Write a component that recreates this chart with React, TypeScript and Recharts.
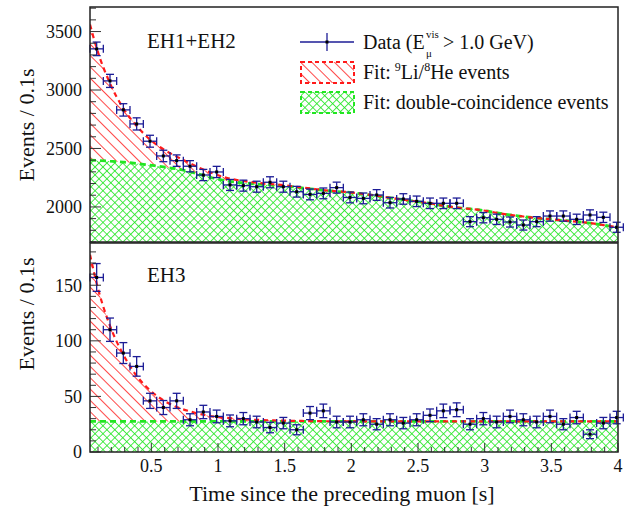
import React from "react";
import { ComposedChart, Area, Line, Scatter, XAxis, YAxis, ErrorBar } from "recharts";

// bin centres (0.1 s bins)
const binCenters = [
  0.09, 0.19, 0.29, 0.39, 0.49, 0.59, 0.69, 0.79, 0.89, 0.99,
  1.09, 1.19, 1.29, 1.39, 1.49, 1.59, 1.69, 1.79, 1.89, 1.99,
  2.09, 2.19, 2.29, 2.39, 2.49, 2.59, 2.69, 2.79, 2.89, 2.99,
  3.09, 3.19, 3.29, 3.39, 3.49, 3.59, 3.69, 3.79, 3.89, 3.99,
];

const eh12Counts = [
  3352, 3078, 2830, 2710, 2562, 2436, 2396, 2348, 2273, 2299,
  2188, 2182, 2173, 2211, 2173, 2130, 2107, 2116, 2165, 2081,
  2073, 2102, 2036, 2068, 2048, 2031, 2031, 2031, 1874, 1908,
  1894, 1871, 1845, 1874, 1922, 1922, 1894, 1931, 1911, 1826,
];
const eh12Errors = [
  58, 56, 53, 52, 51, 49, 49, 48, 48, 48,
  47, 47, 47, 47, 47, 46, 46, 46, 47, 46,
  46, 46, 45, 45, 45, 45, 45, 45, 43, 44,
  44, 43, 43, 43, 44, 44, 44, 44, 44, 43,
];

const eh3Counts = [
  157, 110, 89, 77, 46, 40, 46, 29, 36, 32,
  28, 30, 27, 22, 26, 20, 35, 37, 27, 27,
  29, 25, 29, 26, 29, 33, 37, 38, 25, 30,
  27, 32, 29, 27, 32, 25, 31, 16, 26, 31,
];
const eh3Errors = [
  12.5, 10.5, 9.4, 8.8, 6.8, 6.3, 6.8, 5.4, 6, 5.7,
  5.3, 5.5, 5.2, 4.7, 5.1, 4.5, 5.9, 6.1, 5.2, 5.2,
  5.4, 5, 5.4, 5.1, 5.4, 5.7, 6.1, 6.2, 5, 5.5,
  5.2, 5.7, 5.4, 5.2, 5.7, 5, 5.6, 4, 5.1, 5.6,
];

// fit curves, sampled at the panel edge and the bin centres
const fitTimes = [0.04, ...binCenters, 4.0];
const eh12Coinc = [
  2400, 2398, 2392, 2383, 2372, 2357, 2342, 2325, 2300, 2270, 2240,
  2218, 2205, 2195, 2188, 2180, 2168, 2155, 2142, 2132, 2124,
  2110, 2095, 2078, 2062, 2046, 2030, 2010, 1994, 1983, 1970,
  1950, 1932, 1918, 1905, 1895, 1884, 1874, 1862, 1845, 1825, 1822,
];
const eh12Li = [
  1160, 960, 665, 460, 320, 220, 152, 105, 73, 50, 35,
  24, 17, 12, 8, 6, 4, 3, 2, 1.4, 1,
  0.7, 0.5, 0, 0, 0, 0, 0, 0, 0, 0,
  0, 0, 0, 0, 0, 0, 0, 0, 0, 0, 0,
];
const eh3Coinc = [
  27.5, 27.5, 27.5, 27.5, 27.5, 27.5, 27.5, 27.5, 27.5, 27.5, 27.5,
  27.5, 27.5, 27.5, 27.5, 27.5, 27.5, 27.5, 27.5, 27.5, 27.5,
  27.5, 27.5, 27.5, 27.5, 27.5, 27.5, 27.5, 27.5, 27.5, 27.5,
  27.5, 27.5, 27.5, 27.5, 27.5, 27.5, 27.5, 27.5, 27.5, 27.5, 27.5,
];
const eh3Li = [
  150, 124, 86, 60, 41, 28, 19, 13, 9, 6, 4,
  3, 2, 1.4, 1, 0.7, 0.5, 0.3, 0.2, 0.1, 0,
  0, 0, 0, 0, 0, 0, 0, 0, 0, 0,
  0, 0, 0, 0, 0, 0, 0, 0, 0, 0, 0,
];

const xTicks = [
  0.1, 0.2, 0.3, 0.4, 0.5, 0.6, 0.7, 0.8, 0.9, 1.0,
  1.1, 1.2, 1.3, 1.4, 1.5, 1.6, 1.7, 1.8, 1.9, 2.0,
  2.1, 2.2, 2.3, 2.4, 2.5, 2.6, 2.7, 2.8, 2.9, 3.0,
  3.1, 3.2, 3.3, 3.4, 3.5, 3.6, 3.7, 3.8, 3.9, 4.0,
];
const eh12YTicks = [
  1700, 1800, 1900, 2000, 2100, 2200, 2300, 2400, 2500, 2600, 2700,
  2800, 2900, 3000, 3100, 3200, 3300, 3400, 3500, 3600, 3700,
];
const eh3YTicks = [0, 10, 20, 30, 40, 50, 60, 70, 80, 90, 100, 110, 120, 130, 140, 150, 160, 170, 180];

const FONT = "'Liberation Serif', 'DejaVu Serif', serif";
const W = 636;
const PLOT_L = 90;
const PLOT_R = 618;
const RED = "#ff1a1a";
const GREEN = "#22e622";
const NAVY = "#1c1c96";

const toPoints = (counts: number[], errs: number[]) =>
  binCenters.map((t, i) => ({ t, n: counts[i], ey: errs[i], ex: 0.05 }));
const toFit = (coinc: number[], li: number[]) =>
  fitTimes.map((t, i) => ({ t, g: coinc[i], r: li[i] }));

const isHalf = (v: number) => Math.abs(v * 2 - Math.round(v * 2)) < 1e-6;

function makeYTick(step: number) {
  return (props: any) => {
    const { y, payload } = props;
    const major = payload.value % step === 0;
    return (
      <g>
        <line x1={PLOT_L} x2={PLOT_L + (major ? 11 : 6)} y1={y} y2={y} stroke="#333" strokeWidth={1} />
        {major && (
          <text x={82} y={y} dy="0.35em" textAnchor="end" fontFamily={FONT} fontSize={18} fill="#111">
            {payload.value}
          </text>
        )}
      </g>
    );
  };
}

function makeXTick(plotBottom: number, labels: boolean) {
  return (props: any) => {
    const { x, payload } = props;
    const major = isHalf(payload.value);
    return (
      <g>
        <line x1={x} x2={x} y1={plotBottom} y2={plotBottom - (major ? 9 : 5)} stroke="#333" strokeWidth={1} />
        {labels && major && (
          <text x={x} y={plotBottom + 20} textAnchor="middle" fontFamily={FONT} fontSize={18} fill="#111">
            {Number(payload.value.toFixed(1)).toString()}
          </text>
        )}
      </g>
    );
  };
}

const Dot = (props: any) => {
  const { cx, cy } = props;
  return <rect x={cx - 1.5} y={cy - 1.5} width={3} height={3} fill="#000" />;
};

function Panel({
  height,
  margin,
  xHeight,
  plotBottom,
  labels,
  domain,
  yTicks,
  yStep,
  fit,
  points,
}: any) {
  return (
    <ComposedChart width={W} height={height} data={fit} margin={margin}>
      <XAxis
        dataKey="t"
        type="number"
        domain={[0.04, 4]}
        ticks={xTicks}
        interval={0}
        height={xHeight}
        axisLine={false}
        tickLine={false}
        tick={makeXTick(plotBottom, labels)}
        allowDataOverflow
      />
      <YAxis
        type="number"
        domain={domain}
        ticks={yTicks}
        interval={0}
        width={PLOT_L}
        axisLine={false}
        tickLine={false}
        tick={makeYTick(yStep)}
        allowDataOverflow
      />
      <Area
        dataKey={(d: any) => [d.g, d.g + d.r]}
        type="monotone"
        fill="url(#liHatch)"
        fillOpacity={1}
        stroke="none"
        isAnimationActive={false}
      />
      <Line
        dataKey={(d: any) => d.g + d.r}
        type="monotone"
        stroke={RED}
        strokeWidth={2.2}
        strokeDasharray="5 4"
        dot={false}
        isAnimationActive={false}
      />
      <Area
        dataKey="g"
        type="monotone"
        fill="url(#dcHatch)"
        fillOpacity={1}
        stroke={GREEN}
        strokeWidth={2.8}
        strokeDasharray="6 4"
        isAnimationActive={false}
      />
      <Scatter data={points} dataKey="n" shape={Dot} isAnimationActive={false}>
        <ErrorBar dataKey="ey" direction="y" width={4} stroke={NAVY} strokeWidth={1.3} />
        <ErrorBar dataKey="ex" direction="x" width={4} stroke={NAVY} strokeWidth={1.3} />
      </Scatter>
    </ComposedChart>
  );
}

export default function App() {
  return (
    <div style={{ position: "absolute", left: 0, top: 0, width: W, height: 515, background: "#fff" }}>
      <svg width={0} height={0} style={{ position: "absolute" }}>
        <defs>
          <pattern id="liHatch" patternUnits="userSpaceOnUse" width={8} height={8} patternTransform="rotate(-45)">
            <line x1={0} y1={0} x2={0} y2={8} stroke={RED} strokeWidth={1.6} />
          </pattern>
          <pattern id="dcHatch" patternUnits="userSpaceOnUse" width={5.6} height={5.6} patternTransform="rotate(45)">
            <line x1={0} y1={0} x2={0} y2={5.6} stroke={GREEN} strokeWidth={1.6} />
            <line x1={0} y1={0} x2={5.6} y2={0} stroke={GREEN} strokeWidth={1.6} />
          </pattern>
        </defs>
      </svg>

      <div style={{ position: "absolute", left: 0, top: 0 }}>
        <Panel
          height={243}
          margin={{ top: 7, right: W - PLOT_R, bottom: 1, left: 0 }}
          xHeight={0}
          plotBottom={242}
          labels={false}
          domain={[1700, 3710]}
          yTicks={eh12YTicks}
          yStep={500}
          fit={toFit(eh12Coinc, eh12Li)}
          points={toPoints(eh12Counts, eh12Errors)}
        />
      </div>
      <div style={{ position: "absolute", left: 0, top: 243 }}>
        <Panel
          height={272}
          margin={{ top: 0, right: W - PLOT_R, bottom: 0, left: 0 }}
          xHeight={63}
          plotBottom={209}
          labels={true}
          domain={[0, 188]}
          yTicks={eh3YTicks}
          yStep={50}
          fit={toFit(eh3Coinc, eh3Li)}
          points={toPoints(eh3Counts, eh3Errors)}
        />
      </div>

      <svg
        width={W}
        height={515}
        style={{ position: "absolute", left: 0, top: 0, pointerEvents: "none" }}
        fontFamily={FONT}
      >
        {/* frames */}
        <rect x={PLOT_L} y={7} width={PLOT_R - PLOT_L} height={235} fill="none" stroke="#222" strokeWidth={1.5} />
        <rect x={PLOT_L} y={243} width={PLOT_R - PLOT_L} height={209} fill="none" stroke="#222" strokeWidth={1.5} />

        {/* panel labels */}
        <text x={147} y={48} fontSize={21} fill="#111">EH1+EH2</text>
        <text x={147} y={282} fontSize={21} fill="#111">EH3</text>

        {/* axis titles */}
        <text transform="translate(34,125) rotate(-90)" textAnchor="middle" fontSize={22} fill="#111">
          Events / 0.1s
        </text>
        <text transform="translate(34,314) rotate(-90)" textAnchor="middle" fontSize={22} fill="#111">
          Events / 0.1s
        </text>
        <text x={342} y={501} textAnchor="middle" fontSize={22} fill="#111">
          Time since the preceding muon [s]
        </text>

        {/* legend */}
        <line x1={300} x2={354} y1={42} y2={42} stroke={NAVY} strokeWidth={1.3} />
        <line x1={327} x2={327} y1={33} y2={51} stroke={NAVY} strokeWidth={1.3} />
        <rect x={325.5} y={40.5} width={3} height={3} fill="#000" />
        <text x={363} y={49} fontSize={20} fill="#111">Data (E</text>
        <text x={426} y={38} fontSize={11} fill="#111">vis</text>
        <text x={426} y={57} fontSize={11} fill="#111">μ</text>
        <text x={443} y={49} fontSize={20} fill="#111">&gt; 1.0 GeV)</text>

        <rect x={301} y={62} width={53} height={21} fill="url(#liHatch)" stroke={RED} strokeWidth={2} strokeDasharray="4 3" />
        <text x={363} y={79} fontSize={20} fill="#111">
          Fit:
          <tspan dx={4} dy={-8} fontSize={12}>9</tspan>
          <tspan dy={8}>Li/</tspan>
          <tspan dy={-8} fontSize={12}>8</tspan>
          <tspan dy={8}>He events</tspan>
        </text>

        <rect x={301} y={92} width={53} height={21} fill="url(#dcHatch)" stroke={GREEN} strokeWidth={2} strokeDasharray="4 3" />
        <text x={363} y={109} fontSize={20} fill="#111">
          Fit: double-coincidence events
        </text>
      </svg>
    </div>
  );
}
